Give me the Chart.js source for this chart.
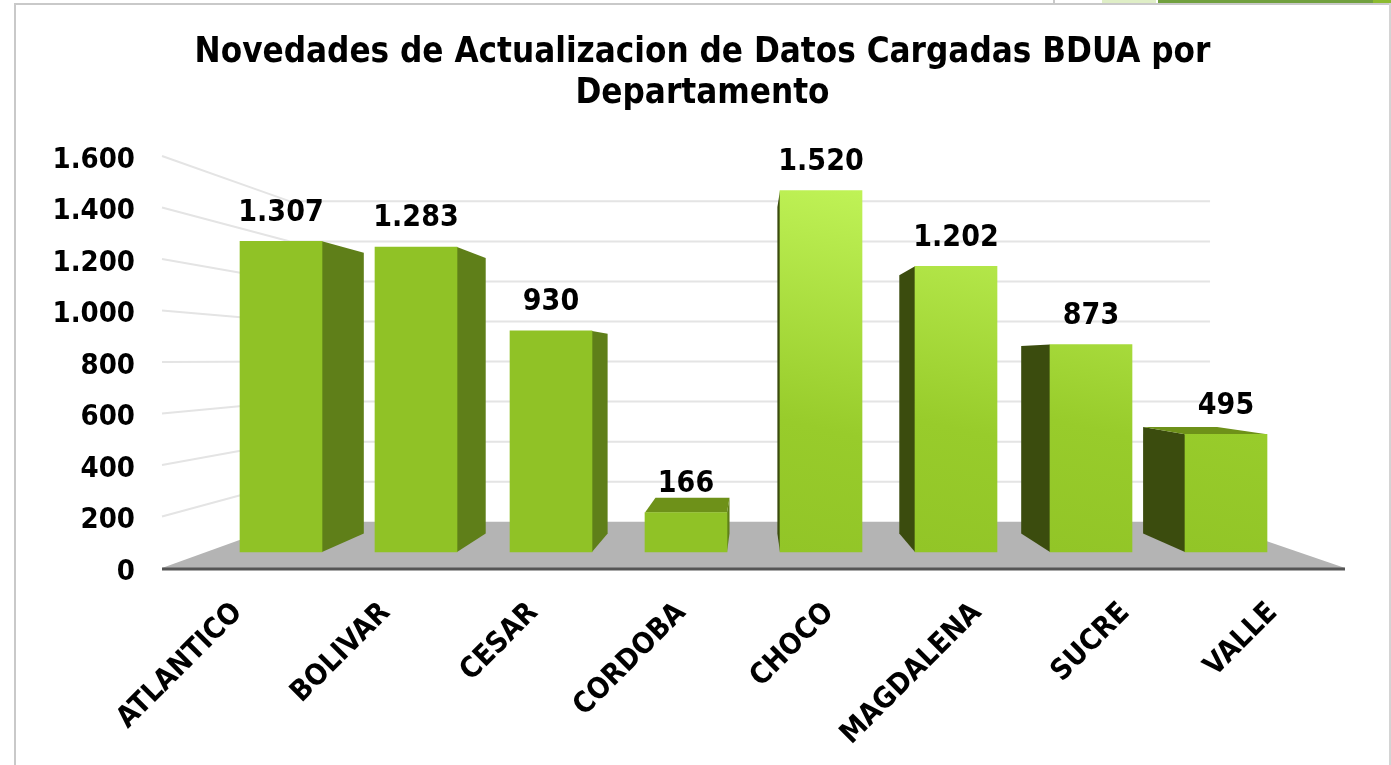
<!DOCTYPE html>
<html>
<head>
<meta charset="utf-8">
<title>Novedades BDUA</title>
<script src="https://cdn.jsdelivr.net/npm/chart.js@4"></script>
<style>
  body { margin: 0; background: #fff; }
  #wrap { position: relative; width: 1391px; height: 765px; overflow: hidden; }
  #wrap div { position: absolute; }
  canvas { position: absolute; left: 0; top: 0; }
</style>
</head>
<body>
<div id="wrap">
  <canvas id="chart" width="1391" height="765"></canvas>
  <!-- marco del recorte -->
  <div style="left:14px;top:3px;width:2px;height:762px;background:#c9c9c9"></div>
  <div style="left:14px;top:3px;width:1377px;height:2px;background:#c9c9c9"></div>
  <div style="left:1389px;top:3px;width:2px;height:762px;background:#d4d4d4"></div>
  <div style="left:1053px;top:0;width:2px;height:4px;background:#c9c9c9"></div>
  <div style="left:1102px;top:0;width:54px;height:3px;background:#dfeec6"></div>
  <div style="left:1158px;top:0;width:215px;height:3px;background:#71a03f"></div>
  <div style="left:1373px;top:0;width:18px;height:3px;background:#8cbb30"></div>
</div>
<script>
// DATOS
const departamentos = ['ATLANTICO', 'BOLIVAR', 'CESAR', 'CORDOBA', 'CHOCO', 'MAGDALENA', 'SUCRE', 'VALLE'];
const novedades = [1307, 1283, 930, 166, 1520, 1202, 873, 495];
const tituloLineas = ['Novedades de Actualizacion de Datos Cargadas BDUA por', 'Departamento'];

const FONT = '"DejaVu Sans Condensed", "DejaVu Sans", sans-serif';
const miles = (v) => String(v).replace(/\B(?=(\d{3})+$)/g, '.');

// punto de fuga del falso 3D
const VX = 753;
const VX_PARED = 738;
const VY = 360;
const K_BARRA = 0.097;  // profundidad de cada barra
const K_PARED = 0.2223; // profundidad de piso y paredes

const proyectar = (x, y, k, vx = VX) => [x + (vx - x) * k, y + (VY - y) * k];

const poligono = (ctx, puntos, color) => {
  ctx.beginPath();
  puntos.forEach((p, i) => (i ? ctx.lineTo(p[0], p[1]) : ctx.moveTo(p[0], p[1])));
  ctx.closePath();
  ctx.fillStyle = color;
  ctx.fill();
};

const falso3D = {
  id: 'falso3D',
  beforeDatasetsDraw(chart) {
    const { ctx, chartArea, scales } = chart;
    const izq = chartArea.left;
    const der = chartArea.right;
    const base = scales.y.getPixelForValue(0);
    const pared = (x, y) => proyectar(x, y, K_PARED, VX_PARED);
    ctx.save();

    // lineas de la pared lateral y del fondo
    ctx.strokeStyle = '#e4e4e4';
    ctx.lineWidth = 2;
    scales.y.ticks.forEach((t) => {
      if (t.value === 0) return;
      const y = scales.y.getPixelForValue(t.value);
      const a = pared(izq, y);
      const b = pared(der, y);
      ctx.beginPath();
      ctx.moveTo(izq, y);
      ctx.lineTo(a[0], a[1]);
      ctx.lineTo(b[0], b[1]);
      ctx.stroke();
    });

    // piso
    poligono(ctx, [[izq, base], pared(izq, base), pared(der, base), [der, base]], '#b4b4b4');
    ctx.strokeStyle = '#555';
    ctx.lineWidth = 3;
    ctx.beginPath();
    ctx.moveTo(izq, base + 1);
    ctx.lineTo(der, base + 1);
    ctx.stroke();

    // caras laterales y superiores de cada barra
    chart.getDatasetMeta(0).data.forEach((bar) => {
      const l = bar.x - bar.width / 2;
      const r = bar.x + bar.width / 2;
      const t = bar.y;
      const b = bar.base;
      const p = (x, y) => proyectar(x, y, K_BARRA);
      if (r < VX) {
        poligono(ctx, [[r, t], p(r, t), p(r, b), [r, b]], '#5f7f19');
      } else if (l > VX) {
        poligono(ctx, [[l, t], p(l, t), p(l, b), [l, b]], '#3b4c0e');
      }
      if (t > VY) {
        poligono(ctx, [[l, t], p(l, t), p(r, t), [r, t]], '#6e9119');
      }
    });
    ctx.restore();
  },
  afterDatasetsDraw(chart) {
    const { ctx } = chart;
    ctx.save();
    ctx.font = 'bold 30px ' + FONT;
    ctx.fillStyle = '#000';
    ctx.textAlign = 'center';
    ctx.textBaseline = 'middle';
    chart.getDatasetMeta(0).data.forEach((bar, i) => {
      ctx.fillText(miles(novedades[i]), bar.x, bar.y - 28.5);
    });
    ctx.restore();
  }
};

// relleno: las barras de la derecha se aclaran hacia arriba, un poco en diagonal
const colorBarra = (c) => {
  if (c.dataIndex < 4) return '#90c226';
  const x = c.chart.scales.xBarra.getPixelForValue(c.dataIndex);
  const g = c.chart.ctx.createLinearGradient(x + 40, 191, x - 40, 552);
  g.addColorStop(0, '#bff256');
  g.addColorStop(0.65, '#98cc2b');
  g.addColorStop(1, '#92c527');
  return g;
};

new Chart(document.querySelector('#chart'), {
  type: 'bar',
  data: {
    labels: departamentos,
    datasets: [{
      label: 'Novedades',
      data: novedades.map((v, i) => ({ x: i, y: v })),
      xAxisID: 'xBarra',
      yAxisID: 'yBarra',
      backgroundColor: colorBarra,
      barThickness: 82
    }]
  },
  options: {
    responsive: false,
    animation: false,
    layout: { padding: { top: 0, left: 14, right: 0, bottom: 0 } },
    plugins: {
      legend: { display: false },
      tooltip: { enabled: false },
      title: {
        display: true,
        text: tituloLineas,
        color: '#000',
        font: { family: FONT, size: 34.7, weight: 'bold', lineHeight: 1.2 },
        padding: { top: 32, bottom: 40.7 }
      }
    },
    scales: {
      // eje visible: borde frontal del piso, donde van las etiquetas
      x: {
        offset: true,
        grid: { display: false, drawTicks: false },
        border: { display: false },
        afterFit: (s) => { s.height = 197; },
        ticks: {
          color: '#000',
          font: { family: FONT, size: 29, weight: 'bold' },
          minRotation: 45,
          maxRotation: 45,
          autoSkip: false,
          labelOffset: 2,
          padding: 28
        }
      },
      y: {
        min: 0,
        max: 1600,
        grid: { display: false, drawTicks: false },
        border: { display: false },
        afterFit: (s) => { s.width = 148; },
        ticks: {
          stepSize: 200,
          color: '#000',
          font: { family: FONT, size: 29, weight: 'bold' },
          padding: 27,
          labelOffset: 4,
          callback: (v) => miles(v)
        }
      },
      // escalas de las barras: el plano frontal del 3D queda mas adentro que los ejes
      xBarra: {
        type: 'linear',
        display: false,
        offset: false,
        min: -0.8815,
        max: 7.8815
      },
      yBarra: {
        position: 'right',
        min: -67.3,
        max: 1665.9,
        grid: { display: false, drawTicks: false },
        border: { display: false },
        ticks: { display: false },
        afterFit: (s) => { s.width = 46; }
      }
    }
  },
  plugins: [falso3D]
});
</script>
</body>
</html>
